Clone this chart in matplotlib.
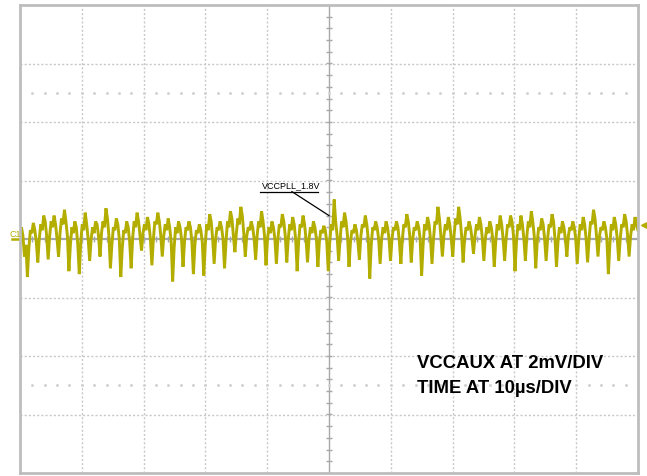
import numpy as np
import matplotlib.pyplot as plt

# scope settings
volts_per_div = 2.0      # mV/DIV
time_per_div = 10.0      # us/DIV
n_xdiv, n_ydiv = 10, 8

# VCCAUX ripple (mV), trough -> hump per cycle
start = [0.2, 0.4, 0.1, -0.6, -0.2]
vccaux_mv = start + [
    -1.3, -0.3, 0.3, 0.2, 0.55, 0.3, -0.1,
    -0.8, 0.0, 0.5, 0.3, 0.8, 0.6, 0.1,
    -0.7, 0.1, 0.6, 0.4, 0.8, 0.5, 0.0,
    -0.6, 0.2, 0.7, 0.5, 1.0, 0.6, 0.1,
    -1.1, -0.2, 0.4, 0.2, 0.6, 0.4, -0.2,
    -1.2, -0.1, 0.5, 0.3, 0.9, 0.5, 0.0,
    -0.75, 0.0, 0.4, 0.2, 0.6, 0.5, 0.1,
    -0.6, 0.2, 0.6, 0.4, 1.05, 0.7, 0.1,
    -1.0, -0.2, 0.4, 0.3, 0.7, 0.5, 0.0,
    -1.3, -0.3, 0.3, 0.2, 0.6, 0.4, -0.1,
    -1.0, 0.0, 0.6, 0.4, 0.9, 0.6, 0.1,
    -0.4, 0.2, 0.5, 0.3, 0.75, 0.5, 0.0,
    -0.9, 0.0, 0.6, 0.5, 0.9, 0.6, 0.1,
    -0.6, 0.1, 0.5, 0.3, 0.7, 0.4, -0.1,
    -1.45, -0.3, 0.4, 0.2, 0.6, 0.4, 0.0,
    -0.95, -0.1, 0.4, 0.3, 0.6, 0.4, -0.1,
    -1.2, -0.2, 0.3, 0.2, 0.5, 0.3, -0.1,
    -1.25, -0.2, 0.5, 0.3, 0.85, 0.6, 0.0,
    -0.85, 0.0, 0.4, 0.3, 0.6, 0.4, 0.0,
    -1.0, -0.1, 0.6, 0.4, 0.95, 0.7, 0.1,
    -0.45, 0.2, 0.7, 0.5, 1.1, 0.8, 0.2,
    -0.6, 0.1, 0.4, 0.3, 0.6, 0.4, 0.0,
    -0.7, 0.1, 0.6, 0.4, 0.95, 0.6, 0.1,
    -0.9, 0.0, 0.4, 0.2, 0.6, 0.4, 0.0,
    -0.85, 0.0, 0.5, 0.4, 0.85, 0.6, 0.1,
    -0.8, 0.0, 0.5, 0.3, 0.75, 0.5, 0.0,
    -1.1, -0.1, 0.5, 0.4, 0.8, 0.5, 0.0,
    -0.8, 0.0, 0.4, 0.2, 0.6, 0.4, 0.0,
    -0.95, -0.1, 0.3, 0.2, 0.45, 0.3, -0.1,
    -1.1, -0.1, 0.5, 0.3, 1.35, 0.6, 0.1,
    -0.75, 0.0, 0.6, 0.4, 0.9, 0.6, 0.1,
    -0.95, -0.1, 0.3, 0.2, 0.5, 0.3, -0.1,
    -0.7, 0.1, 0.5, 0.4, 0.8, 0.5, 0.0,
    -1.35, -0.2, 0.4, 0.3, 0.6, 0.4, 0.0,
    -0.85, 0.0, 0.4, 0.2, 0.6, 0.4, 0.0,
    -0.75, 0.0, 0.4, 0.3, 0.6, 0.4, -0.1,
    -0.85, 0.0, 0.5, 0.4, 0.85, 0.6, 0.1,
    -0.8, 0.0, 0.4, 0.3, 0.6, 0.4, 0.0,
    -1.25, -0.2, 0.5, 0.3, 0.75, 0.5, 0.0,
    -0.85, 0.0, 0.6, 0.5, 1.1, 0.7, 0.1,
    -0.6, 0.1, 0.5, 0.3, 0.75, 0.5, 0.0,
    -0.6, 0.2, 0.7, 0.5, 1.1, 0.7, 0.1,
    -0.8, 0.0, 0.4, 0.3, 0.6, 0.4, 0.0,
    -0.5, 0.1, 0.5, 0.3, 0.75, 0.5, 0.0,
    -0.75, 0.0, 0.4, 0.2, 0.6, 0.4, 0.0,
    -0.95, -0.1, 0.5, 0.3, 0.8, 0.5, 0.0,
    -0.75, 0.0, 0.5, 0.4, 0.8, 0.6, 0.1,
    -1.1, -0.1, 0.5, 0.3, 0.8, 0.5, 0.0,
    -0.75, 0.1, 0.6, 0.4, 0.95, 0.6, 0.1,
    -1.0, -0.1, 0.4, 0.3, 0.7, 0.5, 0.0,
    -0.75, 0.0, 0.5, 0.4, 0.85, 0.6, 0.0,
    -0.95, -0.1, 0.4, 0.2, 0.6, 0.4, 0.0,
    -0.6, 0.1, 0.4, 0.3, 0.6, 0.4, 0.0,
    -0.85, 0.0, 0.5, 0.3, 0.75, 0.5, 0.0,
    -0.8, 0.0, 0.6, 0.5, 1.0, 0.7, 0.1,
    -0.6, 0.1, 0.4, 0.3, 0.6, 0.4, 0.0,
    -1.2, -0.2, 0.5, 0.3, 0.75, 0.5, 0.0,
    -0.75, 0.0, 0.5, 0.4, 0.85, 0.6, 0.1,
    -0.6, 0.1, 0.5, 0.3, 0.75, 0.5, 0.3,
]
t_us = np.linspace(0, n_xdiv * time_per_div, len(vccaux_mv))

trace_color = "#b3ad00"
grid_color = "#c8c8c8"

fig = plt.figure(figsize=(6.47, 4.77), dpi=100)
ax = fig.add_axes([20 / 647, 3 / 477, 618 / 647, 468 / 477])

xmax = n_xdiv * time_per_div
ymax = n_ydiv / 2 * volts_per_div
ax.set_xlim(0, xmax)
ax.set_ylim(-ymax, ymax)
ax.set_xticks([])
ax.set_yticks([])
for s in ax.spines.values():
    s.set_color("#bdbdbd")
    s.set_linewidth(2)

# graticule
for k in range(1, n_xdiv):
    if k != n_xdiv // 2:
        ax.axvline(k * time_per_div, color=grid_color, lw=1, ls=(0, (1.5, 1.5)))
for k in range(1, n_ydiv):
    yv = -ymax + k * volts_per_div
    if abs(yv) > 1e-9:
        ax.axhline(yv, color=grid_color, lw=1, ls=(0, (1.5, 1.5)))

# center axes with minor ticks
ax.axvline(xmax / 2, color="#a8a8a8", lw=1)
ax.axhline(0, color="#a8a8a8", lw=1.6)
minor_x = np.arange(0, xmax + 0.01, time_per_div / 5)
minor_y = np.arange(-ymax, ymax + 0.01, volts_per_div / 5)
ax.plot([xmax / 2] * len(minor_y), minor_y, ls="none", marker="_", ms=5,
        mew=1, color="#a8a8a8")
ax.plot(minor_x, [0] * len(minor_x), ls="none", marker="|", ms=5,
        mew=1, color="#a8a8a8")

# faint dotted rows at +/-2.5 div
for yv in (2.5 * volts_per_div, -2.5 * volts_per_div):
    ax.plot(minor_x[1:-1], [yv] * (len(minor_x) - 2), ls="none", marker="s",
            ms=1, color="#d2d2d2")

# trace
ax.plot(t_us, vccaux_mv, color=trace_color, lw=2.1, solid_joinstyle="miter")

# channel and trigger markers
ax.plot([-1.3, 0], [0, 0], color=trace_color, lw=1.8, clip_on=False)
fig.text(9 / 647, 1 - 237 / 477, "C1", color=trace_color, fontsize=6.5,
         family="Liberation Sans")
ax.plot([101.2], [0.48], marker="<", ms=6, color=trace_color, clip_on=False)

# annotation
ax.text(39.2, 1.78, "VCCPLL_1.8V", fontsize=6.5, family="Liberation Sans")
ax.plot([38.8, 48.2], [1.62, 1.62], color="black", lw=0.9)
ax.plot([44.0, 50.0], [1.62, 0.8], color="black", lw=0.9)

ax.text(64.2, -4.38, "VCCAUX AT 2mV/DIV", fontsize=13.3, fontweight="bold",
        family="Liberation Sans")
ax.text(64.2, -5.23, "TIME AT 10\u00b5s/DIV", fontsize=13.3, fontweight="bold",
        family="Liberation Sans")

plt.savefig("out.png", dpi=100)
